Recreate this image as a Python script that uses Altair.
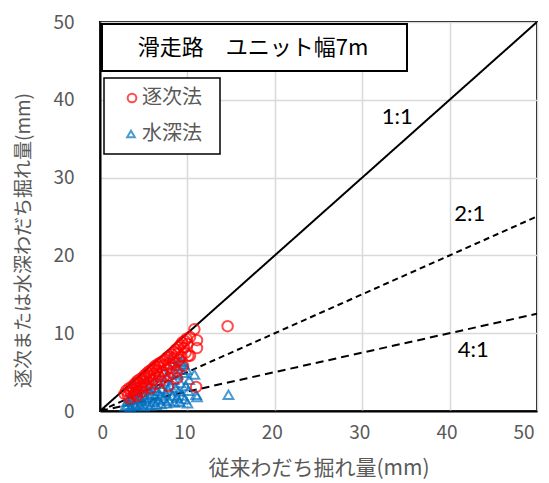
import altair as alt
import pandas as pd

# 逐次法 (red circles)
seq_x = [2.8, 3.0, 3.2, 3.3, 3.5, 3.6, 3.8, 3.9, 4.0, 4.1, 4.2, 4.3, 4.4, 4.5, 4.6, 4.7, 4.8, 4.9,
         5.0, 5.1, 5.2, 5.3, 5.4, 5.5, 5.6, 5.7, 5.8, 5.9, 6.0, 6.1, 6.2, 6.3, 6.4, 6.5, 6.6, 6.7,
         6.8, 6.9, 7.0, 7.1, 7.2, 7.3, 7.4, 7.5, 7.6, 7.7, 7.8, 7.9, 8.0, 8.1, 8.2, 8.3, 8.4, 8.5,
         8.6, 8.7, 8.8, 8.9, 9.0, 9.1, 9.2, 9.3, 9.4, 9.5, 9.6, 9.7, 9.8, 9.9, 10.0, 10.1, 10.3,
         10.8, 11.1, 11.1, 11.0, 14.6, 10.3, 8.8, 3.4, 4.2]
seq_y = [2.2, 2.6, 2.0, 2.9, 2.4, 3.1, 2.7, 3.4, 2.2, 3.6, 3.0, 3.9, 2.6, 3.5, 4.1, 3.2, 2.5, 4.3,
         3.8, 4.6, 3.1, 4.2, 4.9, 3.6, 5.1, 4.5, 2.9, 5.3, 4.0, 5.5, 4.8, 5.8, 3.5, 5.2, 6.0, 4.4,
         5.7, 6.2, 3.9, 5.0, 6.4, 5.9, 4.6, 6.6, 5.3, 6.9, 3.2, 6.1, 7.0, 5.6, 7.3, 4.8, 6.8, 7.6,
         6.2, 7.9, 5.1, 7.4, 8.2, 6.6, 8.5, 7.0, 8.8, 5.8, 8.1, 9.0, 7.5, 9.3, 8.6, 7.1, 9.5,
         10.5, 9.1, 8.1, 3.1, 10.9, 7.1, 4.2, 1.6, 1.9]

# 水深法 (blue triangles)
dep_x = [2.9, 3.1, 3.2, 3.4, 3.5, 3.6, 3.8, 3.9, 4.0, 4.1, 4.2, 4.3, 4.4, 4.5, 4.6, 4.7, 4.8, 4.9,
         5.0, 5.1, 5.2, 5.3, 5.4, 5.5, 5.6, 5.7, 5.8, 5.9, 6.0, 6.1, 6.2, 6.3, 6.4, 6.5, 6.6, 6.7,
         6.8, 6.9, 7.0, 7.1, 7.2, 7.3, 7.4, 7.5, 7.6, 7.7, 7.8, 7.9, 8.0, 8.1, 8.2, 8.3, 8.4, 8.5,
         8.6, 8.7, 8.8, 8.9, 9.0, 9.1, 9.2, 9.3, 9.4, 9.5, 9.6, 9.7, 9.8, 9.9, 10.0, 10.1, 10.2,
         10.8, 11.0, 11.1, 14.7, 3.8, 9.1]
dep_y = [0.6, 1.2, 0.8, 1.8, 0.5, 1.4, 2.3, 0.9, 1.6, 0.7, 2.6, 1.1, 3.2, 1.9, 0.8, 2.4, 1.3, 3.6,
         0.6, 2.1, 1.5, 4.0, 0.9, 2.8, 1.7, 3.3, 0.7, 2.2, 4.3, 1.2, 3.0, 1.9, 0.8, 2.6, 4.6, 1.4,
         3.5, 2.0, 0.9, 2.9, 5.0, 1.6, 3.8, 2.3, 1.0, 4.4, 2.7, 1.3, 3.3, 5.4, 6.7, 2.0, 4.0, 1.1,
         3.0, 5.8, 1.7, 4.7, 2.5, 1.2, 3.6, 6.3, 2.0, 4.9, 6.0, 1.5, 3.2, 5.3, 1.0, 2.6, 4.0,
         4.7, 2.1, 1.8, 2.1, 3.5, 6.4]

ratios = ["1:1", "2:1", "4:1"]
ratio_div = [1, 2, 4]
label_x = [34.0, 42.3, 42.7]
label_y = [37.8, 25.3, 7.8]

FONT = "Noto Sans CJK JP"
GRAY = "#595959"

xs = alt.Scale(domain=[0, 50], nice=False)
ys = alt.Scale(domain=[0, 50], nice=False)
ticks = [0, 10, 20, 30, 40, 50]

seq_df = pd.DataFrame({"x": seq_x, "y": seq_y})
dep_df = pd.DataFrame({"x": dep_x, "y": dep_y})
line_df = pd.DataFrame({
    "ratio": [r for r in ratios for _ in range(2)],
    "x": [v for _ in ratios for v in (0, 50)],
    "y": [v for d in ratio_div for v in (0, 50 / d)],
})
lab_df = pd.DataFrame({"ratio": ratios, "x": label_x, "y": label_y})

base_x = alt.X("x:Q", scale=xs, axis=alt.Axis(
    values=ticks, title="従来わだち掘れ量(mm)", grid=True, ticks=False, tickSize=0,
    labelPadding=12, labelOffset=-3, titleY=57, titleBaseline="middle"))
base_y = alt.Y("y:Q", scale=ys, axis=alt.Axis(
    values=ticks, title="逐次または水深わだち掘れ量(mm)", grid=True, ticks=False, tickSize=0,
    labelPadding=26, titleX=-77, titleY=218, titleBaseline="middle", titleFontSize=19))

lines = alt.Chart(line_df).mark_line(color="black", strokeWidth=2, clip=True).encode(
    x=base_x, y=base_y, detail="ratio:N",
    strokeDash=alt.StrokeDash("ratio:N", scale=alt.Scale(domain=ratios, range=[[1, 0], [6, 4], [8, 5]]), legend=None),
)

seq_pts = alt.Chart(seq_df).mark_point(shape="circle", filled=False, color="#FF0000", size=110, strokeWidth=2).encode(
    x=alt.X("x:Q", scale=xs), y=alt.Y("y:Q", scale=ys))
dep_pts = alt.Chart(dep_df).mark_point(shape="triangle-up", filled=False, color="#0070C0", size=95, strokeWidth=2).encode(
    x=alt.X("x:Q", scale=xs), y=alt.Y("y:Q", scale=ys))

labels = alt.Chart(lab_df).mark_text(font="Lato", fontSize=22, color="black").encode(
    x=alt.X("x:Q", scale=xs), y=alt.Y("y:Q", scale=ys), text="ratio:N")

anno = pd.DataFrame({"k": [0]})
title_box = alt.Chart(anno).mark_rect(fill="white", stroke="black", strokeWidth=2).encode(
    x=alt.value(2), x2=alt.value(307), y=alt.value(2), y2=alt.value(49))
title_txt = alt.Chart(anno).mark_text(font=FONT, fontSize=22, color="black").encode(
    x=alt.value(153), y=alt.value(26), text=alt.value("滑走路　ユニット幅7m"))

legend_box = alt.Chart(anno).mark_rect(fill="white", stroke="black", strokeWidth=1.5).encode(
    x=alt.value(4), x2=alt.value(120), y=alt.value(56), y2=alt.value(132))
leg_c = alt.Chart(anno).mark_point(shape="circle", filled=False, color="#FF0000", size=75, strokeWidth=2).encode(
    x=alt.value(32), y=alt.value(76))
leg_t = alt.Chart(anno).mark_point(shape="triangle-up", filled=False, color="#0070C0", size=60, strokeWidth=2).encode(
    x=alt.value(31), y=alt.value(112))
leg_t1 = alt.Chart(anno).mark_text(font=FONT, fontSize=20, color=GRAY, align="left").encode(
    x=alt.value(42), y=alt.value(76), text=alt.value("逐次法"))
leg_t2 = alt.Chart(anno).mark_text(font=FONT, fontSize=20, color=GRAY, align="left").encode(
    x=alt.value(42), y=alt.value(112), text=alt.value("水深法"))

chart = alt.layer(
    lines, dep_pts, seq_pts, labels, title_box, title_txt, legend_box, leg_c, leg_t, leg_t1, leg_t2
).properties(
    width=437, height=389,
    autosize=alt.AutoSizeParams(type="none"),
    padding={"left": 92, "top": 14, "right": 4, "bottom": 70},
).configure_view(
    stroke="black", strokeWidth=2
).configure_axis(
    gridColor="#D9D9D9", gridWidth=1.5, domainColor="black", domainWidth=2,
    labelFont=FONT, labelFontSize=19, labelColor=GRAY,
    titleFont=FONT, titleFontSize=21, titleColor=GRAY, titleFontWeight="normal",
)

chart.save("out.html", embed_options={"renderer": "svg", "actions": False})
